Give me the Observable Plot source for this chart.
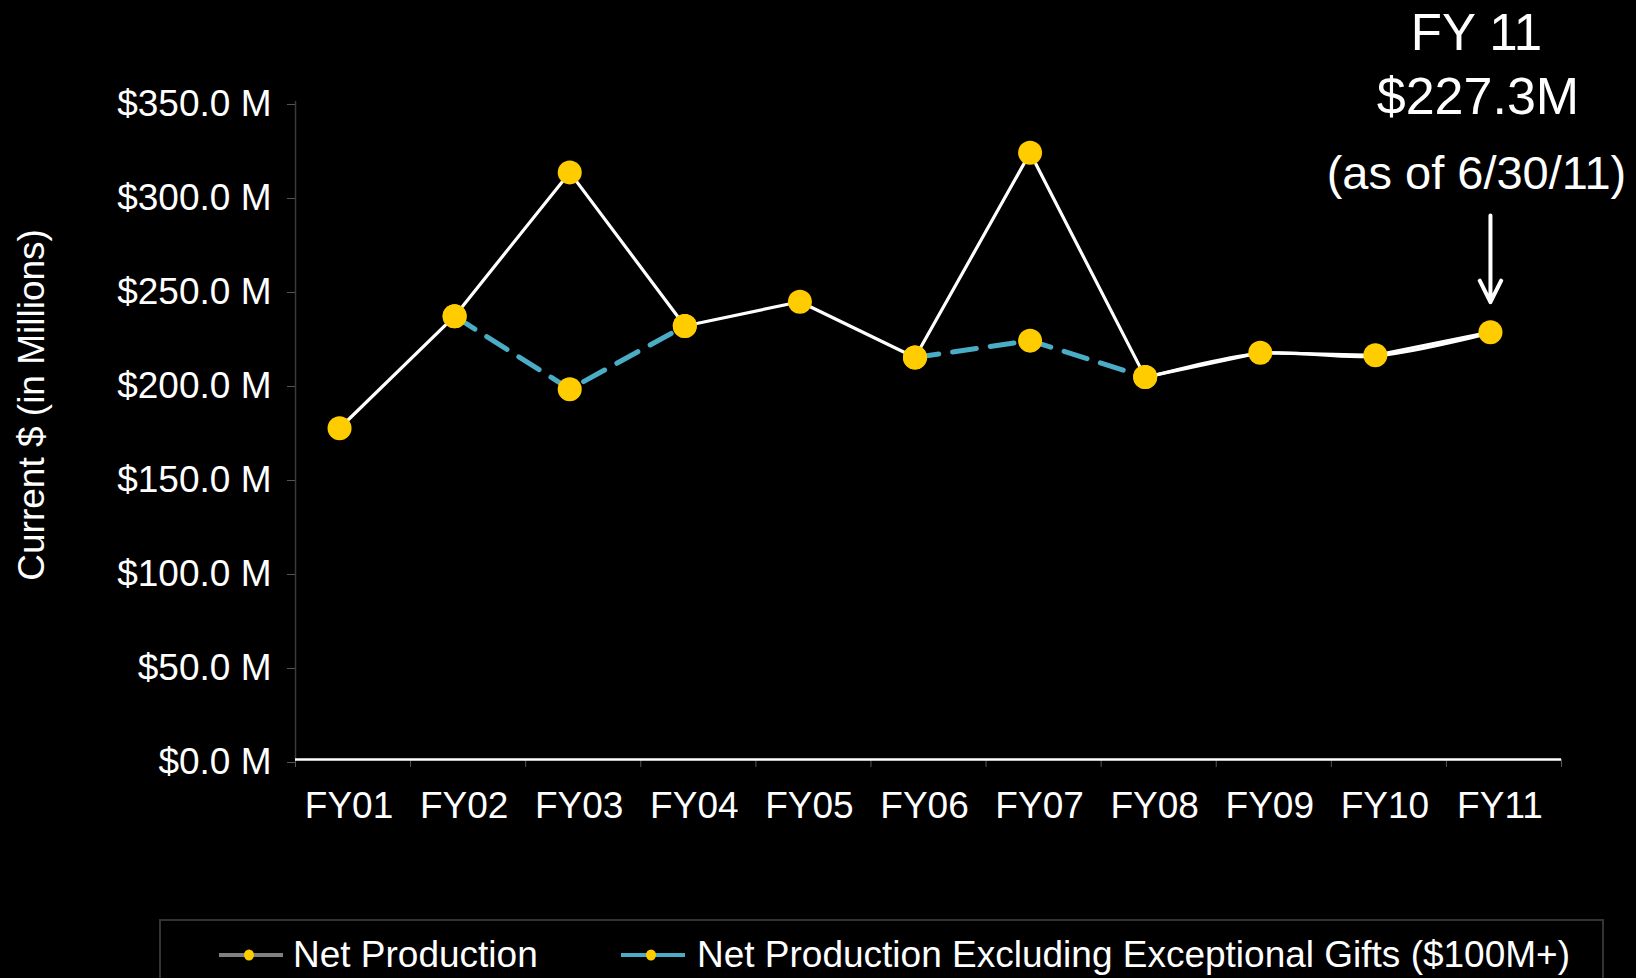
<!DOCTYPE html>
<html>
<head>
<meta charset="utf-8">
<script src="https://cdn.jsdelivr.net/npm/d3@7"></script>
<script src="https://cdn.jsdelivr.net/npm/@observablehq/plot@0.6"></script>
<style>
  html, body { margin: 0; padding: 0; background: #000; }
  body { width: 1636px; height: 978px; overflow: hidden; position: relative;
         font-family: "Liberation Sans", Arial, sans-serif; color: #fff; }
  #chart { position: absolute; left: 0; top: 0; }
  #legend { position: absolute; left: 159px; top: 919px; width: 1445px; height: 90px;
            border: 2px solid #333; box-sizing: border-box; }
  .sym { position: absolute; top: 24px; }
  .lab { position: absolute; top: 15px; font-size: 37px; line-height: 37px; white-space: nowrap; }
</style>
</head>
<body>
<div id="chart"></div>
<div id="legend"></div>
<script>
// ---- data ----
const years = ["FY01","FY02","FY03","FY04","FY05","FY06","FY07","FY08","FY09","FY10","FY11"];
const netProduction = [176.2, 235.8, 312.3, 230.6, 243.5, 213.8, 322.7, 203.4, 216.4, 215.0, 227.3];
const excludingGifts = [176.2, 235.8, 197.0, 230.6, 243.5, 213.8, 222.8, 203.4, 216.4, 215.0, 227.3];
const yTicks = [0, 50, 100, 150, 200, 250, 300, 350];
const seriesNames = ["Net Production", "Net Production Excluding Exceptional Gifts ($100M+)"];
const yTitle = "Current $ (in Millions)";
const annotationLines = ["FY 11", "$227.3M", "(as of 6/30/11)"];

// ---- colours ----
const WHITE = "#ffffff", CYAN = "#4BACC6", YELLOW = "#FFCC00", GRAY = "#808080";

// excluded series drawn only where it differs from net production (plus neighbours)
const differs = i => i >= 0 && i < years.length && excludingGifts[i] !== netProduction[i];
const rows = years.map((year, i) => ({
  i: i + 0.5,
  year,
  net: netProduction[i],
  excl: excludingGifts[i],
  exclShown: (differs(i) || differs(i - 1) || differs(i + 1)) ? excludingGifts[i] : undefined
}));
const last = rows[rows.length - 1];

const W = 1636, H = 915;
const yBottom = 759;
const DX = -13.5;

const chart = Plot.plot({
  width: W, height: H,
  marginLeft: 295, marginRight: 75, marginTop: 101, marginBottom: H - yBottom,
  style: { background: "#000", color: "#fff", fontFamily: "Liberation Sans, Arial, sans-serif", fontSize: "37px", overflow: "visible" },
  x: { type: "linear", domain: [0, years.length] },
  y: { domain: [0, 350] },
  marks: [
    Plot.ruleX([0], { stroke: "#3a3a3a", strokeWidth: 1.5, y1: 0, y2: 350 }),
    Plot.axisY({ ticks: yTicks, tickFormat: d => `$${d.toFixed(1)} M`, tickSize: 8, tickPadding: 16,
                 stroke: "#555", fontSize: 37, dy: 3, label: null }),
    Plot.axisX({ ticks: d3.range(years.length + 1), tickFormat: () => "", tickSize: 8, stroke: "#555", label: null }),
    Plot.axisX({ ticks: rows.map(d => d.i), tickFormat: v => years[Math.floor(v)], tickSize: 0, tickPadding: 32,
                 fontSize: 37, dx: -4, label: null }),
    Plot.ruleY([0], { stroke: WHITE, strokeWidth: 2.5 }),
    Plot.text([yTitle], { frameAnchor: "left", textAnchor: "middle", lineAnchor: "middle", rotate: -90,
                          dx: -263.5, dy: -25.6, fontSize: 37, fill: WHITE }),
    Plot.line(rows, { x: "i", y: "exclShown", stroke: CYAN, strokeWidth: 5, strokeDasharray: "24,14", dx: DX }),
    Plot.line(rows.slice(7), { x: "i", y: "excl", stroke: WHITE, strokeWidth: 3.2, curve: "catmull-rom", dx: DX, dy: 0.8 }),
    Plot.line(rows, { x: "i", y: "net", stroke: WHITE, strokeWidth: 3.2, dx: DX }),
    Plot.dot(rows, { x: "i", y: "exclShown", r: 12, fill: YELLOW, dx: DX }),
    Plot.dot(rows, { x: "i", y: "net", r: 12, fill: YELLOW, dx: DX }),
    // annotation
    Plot.text([annotationLines[0]], { x: last.i, frameAnchor: "top", lineAnchor: "bottom", dx: -27.5, dy: -52, fontSize: 51, fill: WHITE }),
    Plot.text([annotationLines[1]], { x: last.i, frameAnchor: "top", lineAnchor: "bottom", dx: -26, dy: 12.5, fontSize: 52, fill: WHITE }),
    Plot.text([annotationLines[2]], { x: last.i, frameAnchor: "top", lineAnchor: "bottom", dx: -27.5, dy: 87, fontSize: 47, fill: WHITE }),
    Plot.arrow([last], { x1: "i", x2: "i", y1: () => 350, y2: "net", insetStart: 114, insetEnd: 30,
                         stroke: WHITE, strokeWidth: 4, headLength: 9, headAngle: 53, dx: DX })
  ]
});
document.getElementById("chart").appendChild(chart);

// ---- legend ----
const legend = document.getElementById("legend");
const items = [
  { name: seriesNames[0], color: GRAY, symLeft: 58, textLeft: 132 },
  { name: seriesNames[1], color: CYAN, symLeft: 460, textLeft: 536 }
];
for (const it of items) {
  const s = document.createElementNS("http://www.w3.org/2000/svg", "svg");
  s.setAttribute("width", 66); s.setAttribute("height", 20);
  s.setAttribute("class", "sym");
  s.style.left = it.symLeft + "px";
  s.innerHTML = `<line x1="0" x2="64" y1="10" y2="10" stroke="${it.color}" stroke-width="4"/>
                 <ellipse cx="30" cy="10" rx="5" ry="5.5" fill="${YELLOW}"/>`;
  legend.appendChild(s);
  const t = document.createElement("div");
  t.className = "lab";
  t.style.left = it.textLeft + "px";
  t.textContent = it.name;
  legend.appendChild(t);
}
</script>
</body>
</html>
